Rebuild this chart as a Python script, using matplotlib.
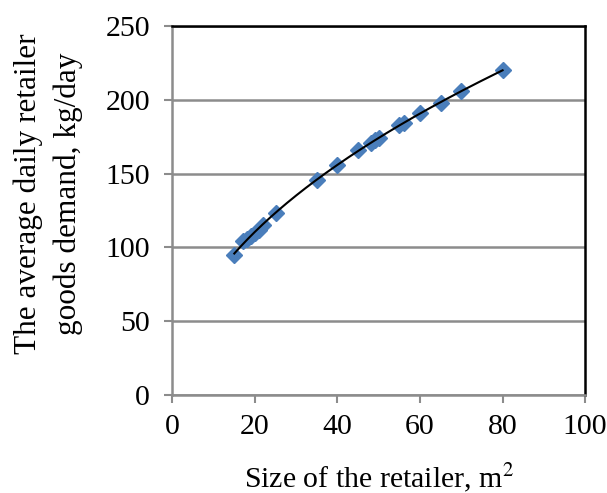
import matplotlib
matplotlib.use('Agg')
import matplotlib.pyplot as plt
import numpy as np

# retailer size (m2) vs average daily demand (kg/day)
size_m2 = [15, 17, 18, 19, 20, 21, 22, 25, 35, 40, 45, 48, 49, 50, 55, 56, 60, 65, 70, 80]
demand = [95, 104, 106, 108, 110, 112, 115, 123, 146, 156, 166, 171, 173, 174, 183, 184, 191, 198, 206, 220]

x_ticks = [0, 20, 40, 60, 80, 100]
y_ticks = [0, 50, 100, 150, 200, 250]

plt.rcParams.update({
    'font.family': 'serif',
    'font.serif': ['Liberation Serif', 'DejaVu Serif'],
    'mathtext.fontset': 'stix',
})

fig = plt.figure(figsize=(6.07, 4.93), dpi=100)
ax = fig.add_axes([0.284, 0.199, 0.680, 0.748])

# power trendline fitted in log space
b, log_a = np.polyfit(np.log(size_m2), np.log(demand), 1)
xs = np.linspace(min(size_m2), max(size_m2), 200)
ax.plot(xs, np.exp(log_a) * xs ** b, color='black', lw=1.5, zorder=3)

ax.plot(size_m2, demand, ls='none', marker='D', ms=8.5, color='#4a7ebb',
        markeredgecolor='#4a7ebb', zorder=2)

ax.set_xlim(0, 100)
ax.set_ylim(0, 250)
ax.set_xticks(x_ticks)
ax.set_yticks(y_ticks)
ax.yaxis.grid(True, color='#8c8c8c', lw=1.8)
ax.set_axisbelow(True)

for side in ('left', 'bottom'):
    ax.spines[side].set_color('#8c8c8c')
    ax.spines[side].set_linewidth(1.8)
for side in ('top', 'right'):
    ax.spines[side].set_color('black')
    ax.spines[side].set_linewidth(1.8)

ax.tick_params(axis='both', labelsize=21.5, color='#8c8c8c', width=1.5, length=6)
ax.tick_params(axis='y', pad=10)
ax.tick_params(axis='x', pad=8)

ax.set_xlabel('Size of the retailer, m$^2$', fontsize=21.5, labelpad=15)
# two-line y label placed by hand, as in the source figure
fig.text(48 / 607, 0.607, 'The average daily retailer\ngoods demand, kg/day',
         rotation=90, ha='center', va='center', ma='center',
         fontsize=22.5, linespacing=1.45)

fig.savefig('out.png', dpi=100)
